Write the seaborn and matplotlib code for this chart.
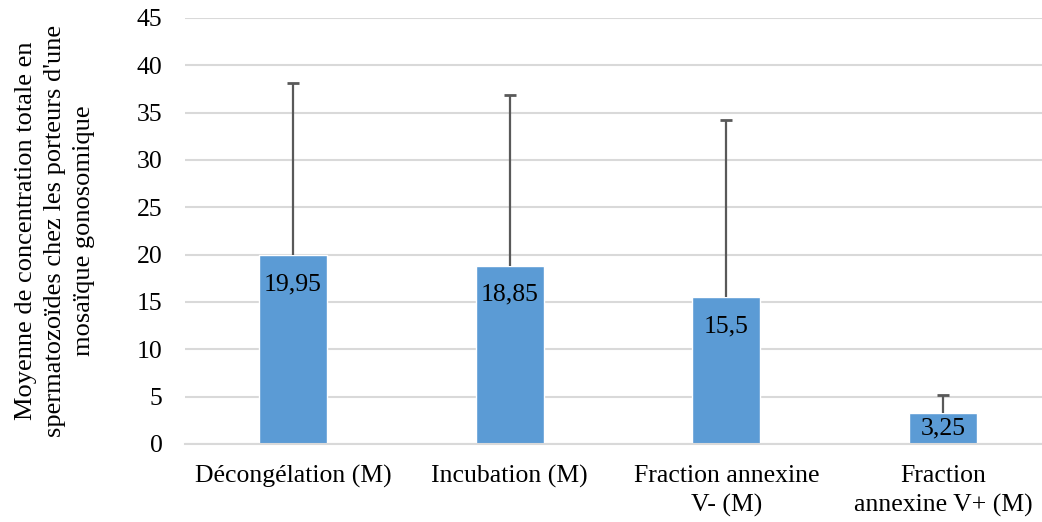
import matplotlib
matplotlib.use("Agg")
import matplotlib.pyplot as plt
import seaborn as sns
import pandas as pd

# Values
categories = ["Décongélation (M)", "Incubation (M)", "Fraction annexine\nV- (M)", "Fraction\nannexine V+ (M)"]
means = [19.95, 18.85, 15.5, 3.25]
errors_up = [18.15, 18.0, 18.7, 1.92]
value_labels = ["19,95", "18,85", "15,5", "3,25"]
y_ticks = [0, 5, 10, 15, 20, 25, 30, 35, 40, 45]

sns.set_theme(style="white")
plt.rcParams["font.family"] = ["Liberation Serif", "DejaVu Serif"]

df = pd.DataFrame({"cat": categories, "mean": means})
tops = [m + e for m, e in zip(means, errors_up)]
xpos = list(range(len(means)))

fig = plt.figure(figsize=(10.42, 5.22), dpi=100)
ax = fig.add_axes([184.7 / 1042, (522 - 444) / 522, 866.5 / 1042, 426 / 522])

sns.barplot(data=df, x="cat", y="mean", color="#5B9BD5", saturation=1,
            width=0.315, ax=ax, zorder=2)

# upper error bars only (stem + cap at the top)
ax.errorbar(xpos, means, yerr=[[0] * len(means), errors_up],
            fmt="none", ecolor="#595959", elinewidth=1.6, capsize=0, zorder=3)
ax.plot(xpos, tops, ls="none", marker="_", markersize=8.5, mew=2, color="#595959", zorder=3)

# labels "inside end" like Excel; a bar too short gets its label centred
for i, (m, lab) in enumerate(zip(means, value_labels)):
    y = max(m - 3.06, m / 2)
    ax.text(i, y, lab, ha="center", va="center", fontsize=18.5, color="black", zorder=4)

ax.set_ylim(0, 45)
ax.set_xlim(-0.5, len(categories) - 0.5)
ax.set_yticks(y_ticks)
ax.yaxis.grid(True, color="#D9D9D9", linewidth=1.5, zorder=0)
ax.set_axisbelow(True)
for s in ["top", "right", "left"]:
    ax.spines[s].set_visible(False)
ax.spines["bottom"].set_color("#D9D9D9")
ax.spines["bottom"].set_linewidth(1.5)
ax.tick_params(axis="both", length=0, labelsize=18.5, colors="black")
ax.tick_params(axis="y", pad=16)
ax.tick_params(axis="x", pad=15)
for t in ax.get_xticklabels():
    t.set_linespacing(1.4)
ax.set_xlabel("")
ax.set_ylabel("Moyenne de concentration totale en\nspermatozoïdes chez les porteurs d'une\nmosaïque gonosomique",
              fontsize=19, color="black", labelpad=30, linespacing=1.4)

fig.savefig("out.png", dpi=100)
